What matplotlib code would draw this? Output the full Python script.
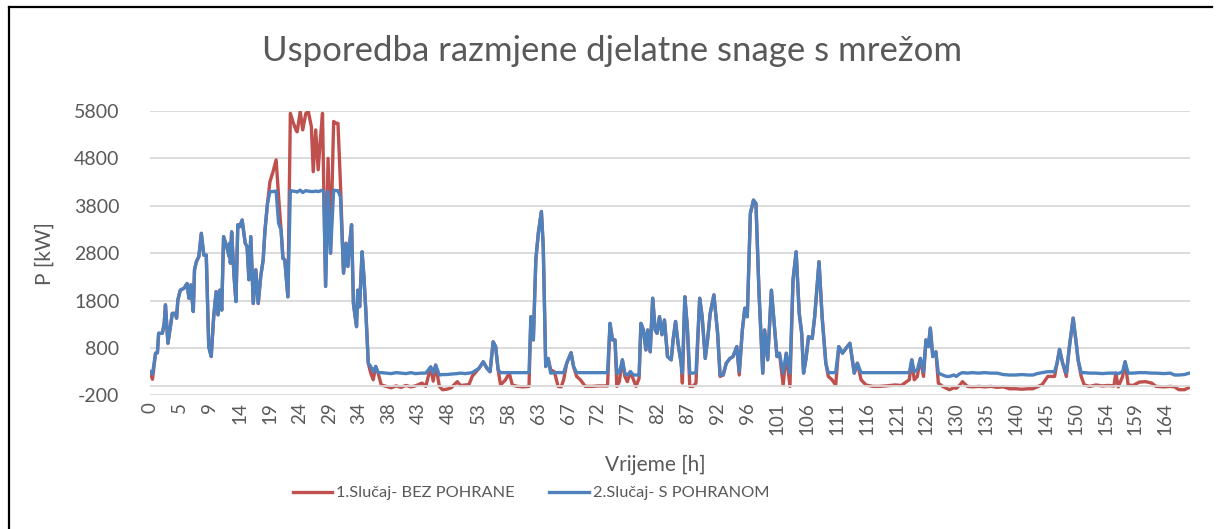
import matplotlib

matplotlib.use("Agg")
import matplotlib.pyplot as plt
from matplotlib.lines import Line2D
import numpy as np

# hour, case 1 (no storage) [kW], case 2 (with storage) [kW]
hours = [
    0.0, 0.4, 0.9, 1.2, 1.4, 2.0, 2.3, 2.5, 2.9, 3.3, 3.6, 4.1, 4.3, 4.5, 4.9, 5.5, 6.0, 6.3, 6.6, 7.0,
    7.2, 7.5, 7.9, 8.3, 8.7, 9.1, 9.5, 9.9, 10.3, 10.7, 11.0, 11.3, 11.6, 11.9, 12.4, 12.8, 12.9, 13.0,
    13.2, 13.6, 13.9, 14.2, 14.5, 14.9, 15.4, 15.7, 16.0, 16.3, 16.7, 17.1, 17.5, 17.9, 18.3, 18.6,
    19.0, 19.4, 19.9, 20.4, 20.8, 21.2, 21.5, 21.8, 22.3, 22.7, 23.1, 23.6, 23.8, 24.3, 24.7, 25.2,
    25.6, 26.1, 26.4, 26.8, 27.2, 27.5, 27.9, 28.1, 28.4, 28.8, 29.2, 29.7, 30.1, 30.4, 30.8, 31.3,
    31.7, 32.0, 32.3, 32.6, 32.9, 33.4, 33.6, 33.9, 34.3, 34.6, 34.9, 35.3, 35.7, 36.1, 36.5, 36.9,
    37.4, 38.2, 39.0, 39.8, 40.6, 41.4, 42.2, 42.9, 44.0, 44.6, 45.4, 45.8, 46.2, 46.8, 47.3, 48.0,
    48.7, 49.7, 50.2, 51.0, 51.6, 52.1, 53.2, 53.9, 54.5, 55.0, 55.5, 55.9, 56.3, 56.7, 57.5, 58.1,
    58.6, 59.4, 60.3, 61.3, 61.6, 62.0, 62.4, 62.8, 63.3, 63.6, 64.0, 64.4, 64.8, 65.4, 66.0, 66.5,
    66.9, 67.4, 68.1, 68.5, 69.0, 69.6, 70.4, 71.5, 72.5, 73.5, 74.0, 74.4, 74.8, 75.2, 75.5, 75.9,
    76.4, 76.8, 77.2, 77.7, 78.2, 78.6, 79.1, 79.4, 79.8, 80.2, 80.5, 80.9, 81.3, 81.7, 82.0, 82.4,
    82.8, 83.2, 83.7, 84.3, 84.6, 85.0, 85.4, 85.9, 86.1, 86.5, 86.9, 87.3, 87.8, 88.3, 88.9, 89.3,
    89.8, 90.2, 90.6, 91.2, 91.8, 92.2, 92.7, 93.2, 93.8, 94.3, 94.9, 95.3, 95.8, 96.2, 96.6, 97.1,
    97.6, 98.0, 98.5, 99.1, 99.4, 99.9, 100.5, 101.0, 101.4, 101.8, 102.4, 102.9, 103.5, 104.0, 104.5,
    105.0, 105.4, 105.7, 106.1, 106.5, 107.1, 107.5, 108.2, 108.7, 109.3, 109.7, 110.3, 110.9, 111.4,
    112.0, 112.6, 113.2, 113.9, 114.4, 115.0, 115.8, 116.9, 118.0, 119.0, 120.5, 121.5, 122.8, 123.2,
    123.6, 124.1, 124.6, 125.1, 125.5, 125.9, 126.2, 126.6, 127.1, 127.5, 128.2, 128.8, 129.3, 130.0,
    130.4, 131.0, 131.4, 132.2, 133.0, 134.0, 135.0, 136.0, 137.0, 138.0, 139.0, 140.0, 141.0, 142.0,
    142.8, 143.5, 144.3, 145.2, 146.3, 146.7, 147.1, 147.6, 148.2, 148.7, 149.3, 149.8, 150.1, 150.6,
    151.1, 152.0, 153.0, 154.0, 155.0, 155.9, 156.2, 156.6, 157.3, 157.7, 158.2, 159.0, 160.0, 161.0,
    162.0, 162.7, 164.0, 165.0, 165.7, 166.4, 167.3, 168.1,
]

p_bez_pohrane = [
    300, 140, 690, 700, 1110, 1110, 1320, 1710, 900, 1250, 1530, 1530, 1430, 1810, 2020, 2060, 2160, 1850, 2130, 1570,
    2450, 2620, 2730, 3220, 2760, 2760, 830, 620, 1460, 1990, 1500, 2020, 1600, 3150, 2940, 2730, 3010, 2590,
    3250, 2300, 1780, 3400, 3360, 3500, 3010, 2940, 2240, 3150, 1740, 2450, 1740, 2300, 2660, 3290,
    3850, 4310, 4520, 4770, 3990, 3290, 2690, 2660, 1880, 5750, 5580, 5400, 5360, 5790, 5400, 5750,
    5790, 5470, 4520, 5400, 4560, 5120, 5750, 4200, 2100, 4800, 2800, 5580, 5540, 5540, 4270, 2380,
    3010, 2520, 3010, 3400, 1740, 1250, 2020, 1670, 2830, 2300, 1600, 480, 270, 130, 410, 270,
    20, -10, -40, 0, -30, 10, -20, 0, 60, -10, 400, 100, 440, -10, -80, -70,
    -40, 90, 10, 20, 30, 200, 370, 510, 370, 300, 930, 830, 340, 20, 130, 270,
    20, -10, -20, -10, 1460, 970, 2660, 3220, 3680, 2940, 410, 580, 340, 300, -10, -20,
    130, 480, 700, 410, 200, 130, -10, -10, 0, 0, 0, 1320, 970, 970, -10, 90,
    550, 200, 90, 300, 130, -10, 160, 1320, 1180, 760, 1180, 720, 1850, 1180, 1110, 1460,
    1080, 1390, 620, 550, 970, 1360, 900, 480, 60, 1880, 1250, -10, -10, 60, 1850, 1460,
    580, 1000, 1530, 1920, 1110, 200, 230, 480, 580, 620, 830, 230, 1180, 1640, 1460, 3640,
    3920, 3850, 1950, 270, 1180, 550, 2020, 1250, 620, 690, 20, 690, -10, 2240, 2830,
    1530, 1110, 270, 580, 1040, 1000, 1460, 2620, 1460, 480, 200, 130, 20, 830,
    690, 800, 900, 270, 480, 130, 20, -10, -10, 0, 20, 10, 130, 550,
    130, 200, 580, 200, 970, 830, 1220, 620, 720, 60, -10, -50, -80, -40,
    -50, 20, 90, -10, -20, -10, -20, -10, -30, -20, -60, -60, -70, -60,
    -60, -20, 30, 200, 200, 480, 770, 480, 200, 830, 1430, 900, 550, 200,
    20, -10, 20, 0, 10, 0, 270, -20, 200, 510, 20, 10, 80, 90,
    60, -10, -20, -10, -20, -80, -80, -30,
]

p_s_pohranom = [
    300, 250, 690, 700, 1110, 1110, 1320, 1710, 900, 1250, 1530, 1530, 1430, 1810, 2020, 2060, 2160, 1850, 2130, 1570,
    2450, 2620, 2730, 3220, 2760, 2760, 830, 620, 1460, 1990, 1500, 2020, 1600, 3150, 2940, 2730, 3010, 2590,
    3250, 2300, 1780, 3400, 3360, 3500, 3010, 2940, 2240, 3150, 1740, 2450, 1740, 2300, 2660, 3290,
    3850, 4100, 4100, 4110, 3430, 3290, 2690, 2660, 1880, 4120, 4110, 4100, 4090, 4130, 4080, 4120,
    4110, 4100, 4100, 4110, 4100, 4110, 4130, 4100, 2100, 4100, 2800, 4130, 4120, 4120, 3990, 2380,
    3010, 2520, 3010, 3400, 1740, 1250, 2020, 1670, 2830, 2300, 1600, 480, 410, 300, 410, 280,
    280, 270, 260, 280, 270, 260, 280, 260, 270, 270, 400, 270, 440, 230, 240, 240,
    250, 260, 270, 260, 270, 280, 370, 510, 370, 300, 930, 830, 340, 280, 280, 280,
    280, 280, 280, 280, 1460, 970, 2660, 3220, 3680, 2940, 410, 580, 270, 280, 280, 280,
    280, 480, 700, 410, 280, 280, 280, 280, 280, 280, 280, 1320, 970, 970, 270, 270,
    550, 270, 230, 300, 230, 230, 230, 1320, 1180, 760, 1180, 720, 1850, 1180, 1110, 1460,
    1080, 1390, 620, 550, 970, 1360, 900, 480, 270, 1880, 1250, 270, 270, 280, 1850, 1460,
    580, 1000, 1530, 1920, 1110, 230, 230, 480, 580, 620, 830, 300, 1180, 1640, 1460, 3640,
    3920, 3850, 1950, 270, 1180, 550, 2020, 1250, 620, 690, 270, 690, 270, 2240, 2830,
    1530, 1110, 270, 580, 1040, 1000, 1460, 2620, 1460, 480, 280, 280, 280, 830,
    690, 800, 900, 270, 480, 280, 280, 280, 280, 280, 280, 280, 280, 550,
    300, 340, 580, 300, 970, 830, 1220, 620, 720, 270, 230, 200, 200, 230,
    200, 260, 280, 270, 280, 270, 280, 270, 270, 240, 230, 230, 240, 230,
    230, 260, 280, 300, 300, 480, 770, 480, 270, 830, 1430, 900, 550, 280,
    280, 270, 270, 260, 270, 270, 270, 260, 300, 510, 270, 270, 280, 280,
    270, 270, 260, 270, 230, 230, 240, 270,
]

x_tick_labels = [
    "0", "5", "9", "14", "19", "24", "29", "34", "38", "43", "48", "53", "58", "63", "67", "72", "77",
    "82", "87", "92", "96", "101", "106", "111", "116", "121", "125", "130", "135", "140", "145", "150",
    "154", "159", "164",
]
y_ticks = [-200, 800, 1800, 2800, 3800, 4800, 5800]

RED = "#C0504D"
BLUE = "#4F81BD"
GREY = "#595959"
FONT = "Lato"

fig = plt.figure(figsize=(12.16, 5.29), dpi=100)
ax = fig.add_axes([150 / 1216, 1 - 395.4 / 529, 1040 / 1216, (395.4 - 111) / 529])

ax.plot(hours, p_bez_pohrane, color=RED, lw=2.4, solid_joinstyle="round")
ax.plot(hours, p_s_pohranom, color=BLUE, lw=2.4, solid_joinstyle="round")

ax.set_xlim(0, 168.2)
ax.set_ylim(-200, 5800)
ax.set_yticks(y_ticks)
ax.set_yticklabels([str(v) for v in y_ticks], fontsize=14, color=GREY, family=FONT)
tick_step = 164.2 / (len(x_tick_labels) - 1)
ax.set_xticks(np.arange(len(x_tick_labels)) * tick_step)
ax.set_xticklabels(x_tick_labels, rotation=90, fontsize=13.5, color=GREY, family=FONT)
ax.tick_params(axis="both", length=0, pad=5)
ax.tick_params(axis="y", pad=22)

ax.grid(axis="y", color="#D9D9D9", lw=1.3)
ax.axhline(0, color="#D9D9D9", lw=1.3)
for s in ax.spines.values():
    s.set_visible(False)
ax.set_axisbelow(True)

ax.set_ylabel("P [kW]", fontsize=15, color=GREY, family=FONT, labelpad=14)
fig.text(655 / 1216, 1 - 465 / 529, "Vrijeme [h]", ha="center", va="center",
         fontsize=15, color=GREY, family=FONT)
fig.text(612 / 1216, 1 - 51 / 529, "Usporedba razmjene djelatne snage s mrežom",
         ha="center", va="center", fontsize=25, color=GREY, family=FONT)

handles = [Line2D([], [], color=RED, lw=2.4), Line2D([], [], color=BLUE, lw=2.4)]
fig.legend(handles, ["1.Slučaj- BEZ POHRANE", "2.Slučaj- S POHRANOM"],
           loc="center", bbox_to_anchor=(531 / 1216, 1 - 493 / 529), ncol=2, frameon=False,
           prop={"family": FONT, "size": 11.8}, labelcolor=GREY, handlelength=2.4,
           columnspacing=2.1, handletextpad=0.25)

# chart border (left and top edges visible)
fig.add_artist(Line2D([8.5 / 1216, 8.5 / 1216], [0, 1 - 6.5 / 529], color="black", lw=1.6))
fig.add_artist(Line2D([8.5 / 1216, 1212 / 1216], [1 - 6.5 / 529, 1 - 6.5 / 529], color="black", lw=1.6))

fig.savefig("out.png", dpi=100)
